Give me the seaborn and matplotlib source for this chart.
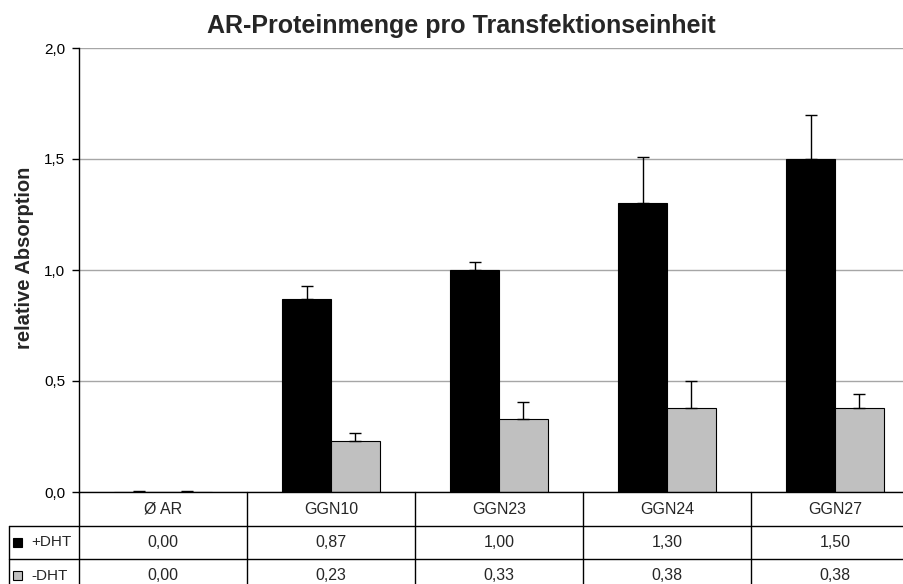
import numpy as np
import pandas as pd
import seaborn as sns
import matplotlib.pyplot as plt
from matplotlib.patches import Rectangle
from matplotlib.ticker import FuncFormatter

# data
categories = ['Ø AR', 'GGN10', 'GGN23', 'GGN24', 'GGN27']
series = ['+DHT', '-DHT']
plus_dht = [0.00, 0.87, 1.00, 1.30, 1.50]
minus_dht = [0.00, 0.23, 0.33, 0.38, 0.38]
plus_err = [0.005, 0.06, 0.035, 0.21, 0.20]
minus_err = [0.005, 0.035, 0.075, 0.12, 0.06]
colors = ['#000000', '#c0c0c0']

sns.set_theme(style="white")
plt.rcParams['font.family'] = ['Liberation Sans', 'DejaVu Sans']

df = pd.DataFrame({
    'cat': categories * 2,
    'val': plus_dht + minus_dht,
    'series': [series[0]] * 5 + [series[1]] * 5,
})

fig = plt.figure(figsize=(9.04, 5.84), dpi=100)
# plot area is cut off on the right like in the original
ax = fig.add_axes([79 / 904, 92 / 584, 840 / 904, 444 / 584])

sns.barplot(data=df, x='cat', y='val', hue='series', palette=colors,
            width=0.58, edgecolor='black', linewidth=0.8, legend=False, ax=ax)

# error bars, upward only
for cont, err in zip(ax.containers, [plus_err, minus_err]):
    xs = [p.get_x() + p.get_width() / 2 for p in cont]
    ys = [p.get_height() for p in cont]
    ax.errorbar(xs, ys, yerr=[np.zeros(len(err)), err], fmt='none',
                ecolor='black', elinewidth=1.0, capsize=4.3, capthick=1.0)

ax.set_xlim(-0.5, 4.5)
ax.set_ylim(0, 2.0)
ax.set_yticks(np.arange(0, 2.01, 0.5))
ax.yaxis.set_major_formatter(FuncFormatter(lambda v, p: f"{v:.1f}".replace('.', ',')))
ax.tick_params(axis='y', which='both', left=True, length=5, width=1, color='black',
               labelsize=11, pad=5, labelcolor='black')
ax.set_xticks([])
ax.set_xlabel('')
ax.set_ylabel('')
ax.yaxis.grid(True, color='#a6a6a6', linewidth=1)
ax.set_axisbelow(True)
for s in ['top', 'right']:
    ax.spines[s].set_visible(False)
ax.spines['left'].set_color('black')
ax.spines['bottom'].set_color('black')
ax.spines['left'].set_linewidth(1)
ax.spines['bottom'].set_linewidth(1)

# data table below the plot
tr = ax.get_xaxis_transform()
def xpx(px):
    return -0.5 + (px - 79) / 168
def ypx(px):
    return (492 - px) / 444

r0, r1, r2, r3 = ypx(492), ypx(526), ypx(559), ypx(592)
left = xpx(9)
for y in [r1, r2, r3]:
    ax.plot([left, 4.5], [y, y], color='black', lw=1, transform=tr, clip_on=False)
ax.plot([left, left], [r1, r3], color='black', lw=1, transform=tr, clip_on=False)
for i in range(len(categories) + 1):
    ax.plot([i - 0.5, i - 0.5], [r0, r3], color='black', lw=1, transform=tr, clip_on=False)

for i, c in enumerate(categories):
    ax.text(i, (r0 + r1) / 2, c, ha='center', va='center', fontsize=11.5, transform=tr, clip_on=False)
    ax.text(i, (r1 + r2) / 2, f"{plus_dht[i]:.2f}".replace('.', ','), ha='center', va='center',
            fontsize=11.5, transform=tr, clip_on=False)
    ax.text(i, (r2 + r3) / 2, f"{minus_dht[i]:.2f}".replace('.', ','), ha='center', va='center',
            fontsize=11.5, transform=tr, clip_on=False)

for name, col, (ya, yb) in zip(series, colors, [(r1, r2), (r2, r3)]):
    yc = (ya + yb) / 2
    ax.add_patch(Rectangle((xpx(13), yc - 4.5 / 444), xpx(22) - xpx(13), 9 / 444,
                           facecolor=col, edgecolor='black', lw=0.8,
                           transform=tr, clip_on=False))
    ax.text(xpx(31), yc, name, ha='left', va='center', fontsize=11, transform=tr, clip_on=False)

fig.text(461 / 904, 1 - 33 / 584, 'AR-Proteinmenge pro Transfektionseinheit',
         ha='center', va='baseline', fontsize=18, fontweight='bold')
fig.text(25 / 904, 1 - 258 / 584, 'relative Absorption', rotation=90,
         ha='center', va='center', fontsize=14.5, fontweight='bold')

fig.savefig('out.png', dpi=100, facecolor='white')
